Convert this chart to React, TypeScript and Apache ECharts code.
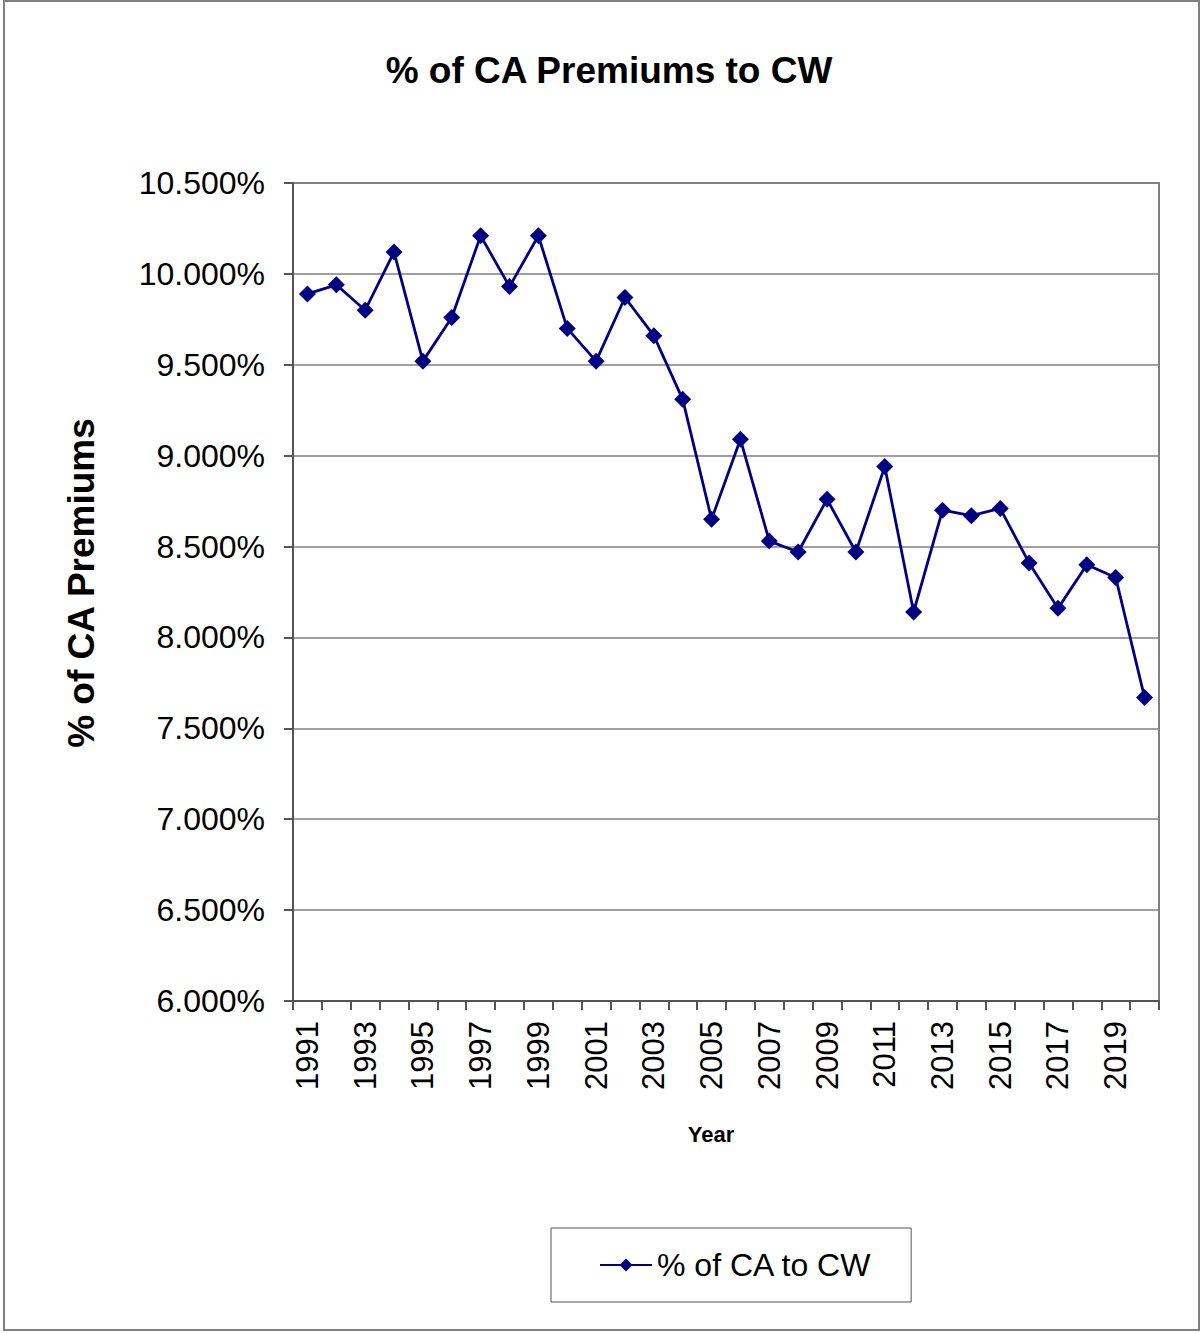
import React, { useEffect, useRef } from "react";
import * as echarts from "echarts";

const years = [
  "1991", "1992", "1993", "1994", "1995", "1996", "1997", "1998", "1999", "2000",
  "2001", "2002", "2003", "2004", "2005", "2006", "2007", "2008", "2009", "2010",
  "2011", "2012", "2013", "2014", "2015", "2016", "2017", "2018", "2019", "2020",
];
const caToCw = [
  9.89, 9.94, 9.80, 10.12, 9.52, 9.76, 10.21, 9.93, 10.21, 9.70,
  9.52, 9.87, 9.66, 9.31, 8.65, 9.09, 8.53, 8.47, 8.76, 8.47,
  8.94, 8.14, 8.70, 8.67, 8.71, 8.41, 8.16, 8.40, 8.33, 7.67,
];
const seriesName = "% of CA to CW";
const titleText = "% of CA Premiums to CW";
const yAxisTitle = "% of CA Premiums";
const xAxisTitle = "Year";

export default function App() {
  const ref = useRef<HTMLDivElement>(null);
  useEffect(() => {
    if (!ref.current) return;
    const chart = echarts.init(ref.current, null, { renderer: "svg" });
    const font = "Arial, 'Liberation Sans', sans-serif";
    chart.setOption({
      animation: false,
      backgroundColor: "#ffffff",
      textStyle: { fontFamily: font },
      title: {
        text: titleText,
        left: 604,
        top: 47,
        textAlign: "center",
        textStyle: { fontSize: 37, fontWeight: "bold", color: "#000", fontFamily: font },
      },
      graphic: [
        {
          type: "rect",
          shape: { x: 4, y: 1, width: 1195, height: 1329 },
          style: { fill: "none", stroke: "#808080", lineWidth: 2 },
          silent: true,
        },
        {
          type: "text",
          x: 81,
          y: 583,
          rotation: Math.PI / 2,
          style: {
            text: yAxisTitle,
            fontSize: 37,
            fontWeight: "bold",
            fontFamily: font,
            fill: "#000",
            align: "center",
            verticalAlign: "middle",
          },
        },
        {
          type: "text",
          x: 711,
          y: 1134,
          style: {
            text: xAxisTitle,
            fontSize: 22,
            fontWeight: "bold",
            fontFamily: font,
            fill: "#000",
            align: "center",
            verticalAlign: "middle",
          },
        },
      ],
      legend: {
        left: 551,
        top: 1228,
        data: [seriesName],
        itemWidth: 52,
        itemHeight: 16,
        itemGap: 5,
        borderColor: "#555",
        borderWidth: 1,
        padding: [21, 39, 21, 48],
        textStyle: { fontSize: 32, color: "#000", fontFamily: font },
      },
      grid: {
        left: 293,
        right: 45,
        top: 183,
        bottom: 332,
        show: true,
        borderColor: "#808080",
        borderWidth: 2,
        containLabel: false,
      },
      xAxis: {
        type: "category",
        data: years,
        boundaryGap: true,
        axisLine: { lineStyle: { color: "#555", width: 2 } },
        axisTick: { show: true, interval: 0, length: 9, lineStyle: { color: "#555", width: 2 } },
        axisLabel: {
          interval: 1,
          rotate: 90,
          fontSize: 31,
          color: "#000",
          fontFamily: font,
          margin: 20,
        },
        splitLine: { show: false },
      },
      yAxis: {
        type: "value",
        min: 6,
        max: 10.5,
        interval: 0.5,
        axisLine: { show: true, lineStyle: { color: "#555", width: 2 } },
        axisTick: { show: true, length: 9, lineStyle: { color: "#555", width: 2 } },
        axisLabel: {
          formatter: (v: number) => v.toFixed(3) + "%",
          fontSize: 32,
          color: "#000",
          fontFamily: font,
          margin: 28,
        },
        splitLine: { show: true, lineStyle: { color: "#808080", width: 1.5 } },
      },
      series: [
        {
          name: seriesName,
          type: "line",
          data: caToCw,
          symbol: "diamond",
          symbolSize: 17,
          itemStyle: { color: "#000080" },
          lineStyle: { color: "#000080", width: 2.8 },
        },
      ],
    });
    return () => chart.dispose();
  }, []);
  return (
    <div
      ref={ref}
      style={{ position: "fixed", left: 0, top: 0, width: 1204, height: 1333 }}
    />
  );
}
